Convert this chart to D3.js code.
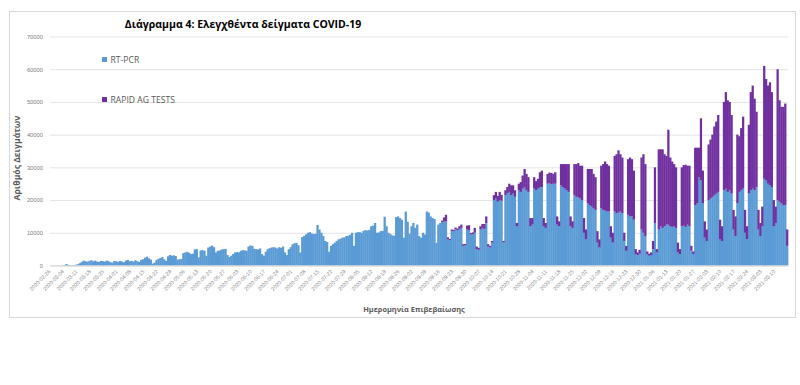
<!DOCTYPE html>
<html>
<head>
<meta charset="utf-8">
<script src="https://cdn.jsdelivr.net/npm/d3@7"></script>
<style>
  body { margin: 0; background: #fff; }
  svg { font-family: 'Open Sans', 'Noto Sans', sans-serif; }
</style>
</head>
<body>
<svg></svg>
<script>
// daily samples, one row per week (Wed..Tue), first day 2020-02-26
let startDate = '2020-02-26'
let pcr = [
  30,20,40,60,20,30,80,
  150,450,200,120,100,150,250,
  400,700,1100,1500,1300,1200,1400,
  1600,1300,1500,1200,1100,1400,1300,
  1200,1500,1300,1000,900,1400,1300,
  1100,1400,1200,1000,1500,1700,1300,
  1400,1200,1600,1300,1100,1700,1900,
  2400,2700,2200,1800,600,900,1700,
  2000,2300,2600,1900,1400,2800,3200,
  3000,3100,2900,1800,1900,2000,3800,
  4000,4200,3900,3500,3600,4900,5000,
  2500,4600,4700,4500,3000,5500,5800,
  6100,5600,4000,4500,4600,4900,5000,
  5100,3200,2600,3000,3500,4000,4100,
  4000,4500,4700,4600,4500,5800,6100,
  6000,5100,5000,4900,5200,3500,3000,
  4200,5000,5300,5500,5600,5500,5200,
  5600,5400,5800,4000,3200,5000,5600,
  6500,6800,6900,6200,4000,8700,9000,
  9500,10000,10200,9800,9600,9700,12400,
  11000,10000,9000,7500,7200,4200,6000,
  6500,7000,7500,8000,8200,8500,8600,
  9000,9100,9400,10000,6000,10000,10200,
  10200,10000,10600,10800,10700,10900,12000,
  12200,13000,10000,10100,10500,10600,14900,
  12000,10000,9600,9200,9100,14800,15000,
  14500,14000,8500,16500,13400,9700,12000,
  13000,11500,12500,9000,8500,10000,9500,
  16500,16200,15000,14500,14200,6900,12500,
  13000,13200,13500,13500,8000,7800,10500,
  10500,11000,10800,11200,11500,6000,6200,
  11000,10800,9500,9600,10000,5000,4800,
  11000,11500,11200,13000,5800,5500,7000,
  20000,20500,19500,20000,19800,7000,21500,
  22000,22500,21500,22000,21000,12000,23000,
  22500,23500,24000,23000,22500,12000,12500,
  23500,23000,23500,24000,24000,12000,11500,
  25000,25200,24800,25000,25000,12500,12000,
  24500,24000,23500,23000,22500,12000,11500,
  21500,21000,20800,20500,20000,10000,8000,
  19000,18500,18000,17500,17000,7000,5500,
  17500,17000,16800,16500,16500,8500,7000,
  16500,16000,16200,16500,16000,7500,4500,
  15500,15000,15000,14000,3500,3200,3600,
  11000,10000,9000,3500,3000,3200,5000,
  13000,4000,11000,12000,11500,12000,12500,
  12500,12000,11800,12000,11500,4000,3500,
  12000,12200,11800,12500,12000,4500,3500,
  18500,19000,27000,26000,19000,8500,7500,
  20000,20500,21000,21500,22000,22500,8000,
  7500,23000,23500,22500,23000,22000,11000,
  9000,19000,22500,23000,23500,10000,8000,
  22000,23000,23500,23000,24000,11000,9000,
  12000,26500,26000,25000,24500,24000,12000,
  13000,20000,19500,19000,18500,18500,6000
]

// rapid antigen tests only reported from 2020-09-16 on
let rapidStart = '2020-09-16'
let rapid = [
  0,500,1200,2000,600,300,500,
  400,600,500,800,1000,500,400,
  1200,1500,400,500,1500,800,600,
  1000,1200,1500,2000,700,500,500,
  1500,2000,1800,2500,1800,500,1500,
  2000,2500,3000,2500,2000,1000,2000,
  3000,4000,5500,5000,4500,2500,2000,
  3500,2800,3000,4500,5000,2500,1500,
  3000,3200,3500,3000,3500,2500,1500,
  6500,7000,7500,8000,8500,3000,2000,
  9500,10000,10500,10000,10500,4500,3000,
  10500,11000,11500,10500,10000,3500,2500,
  13000,14000,15000,14500,14000,3500,3000,
  17000,18000,19000,17500,17000,2500,1500,
  17000,18000,17500,15000,1500,800,1200,
  22000,24000,22000,800,600,800,2500,
  17000,1000,24500,23500,24000,22000,21000,
  29000,21000,20000,19000,18500,3000,1500,
  18000,18500,19000,18000,18500,1500,800,
  17500,17000,9000,19000,10000,5000,3500,
  17000,18000,19000,21000,22000,23500,6000,
  4500,27000,29500,28000,27000,24000,6000,
  6000,21000,17000,19000,22000,7000,4000,
  21000,30000,31500,28000,23000,6000,4000,
  6000,34500,31000,30000,31500,29000,8000,
  5000,40000,31000,29500,30000,31000,5000
]

let yTicks = [0, 10000, 20000, 30000, 40000, 50000, 60000, 70000]
let seriesNames = ['RT-PCR', 'RAPID AG TESTS']
let colors = ['#5b9bd5', '#7030a0']

let width = 800
let height = 385
let plotLeft = 50
let plotRight = 788
let plotTop = 36.5
let plotBottom = 265.5

let parse = d3.timeParse('%Y-%m-%d')
let fmt = d3.timeFormat('%Y-%m-%d')
let day0 = parse(startDate)
let rapidOffset = d3.timeDay.count(day0, parse(rapidStart))

let rows = pcr.map((v, i) => {
  return {
    date: d3.timeDay.offset(day0, i),
    pcr: v,
    rapid: i >= rapidOffset ? rapid[i - rapidOffset] : 0
  }
})

let svg = d3.select('svg').attr('width', width).attr('height', height)

// chart frame
svg.append('rect')
  .attr('x', 9.5).attr('y', 11.5)
  .attr('width', 786).attr('height', 306)
  .attr('fill', '#fff')
  .attr('stroke', '#d9d9d9')

let xScale = d3.scaleBand()
  .domain(rows.map(d => fmt(d.date)))
  .range([plotLeft, plotRight])
  .padding(0)

let yScale = d3.scaleLinear()
  .domain([0, 70000])
  .range([plotBottom, plotTop])

// gridlines + y labels
let yAxis = d3.axisLeft(yScale)
  .tickValues(yTicks)
  .tickSize(-(plotRight - plotLeft))
  .tickPadding(7)
  .tickFormat(d3.format('d'))

let gy = svg.append('g')
  .attr('transform', 'translate(' + plotLeft + ',0)')
  .call(yAxis)
gy.select('.domain').remove()
gy.selectAll('line').attr('stroke', '#e4e4e4')
gy.selectAll('text')
  .attr('fill', '#7f7f7f')
  .style('font-size', '5.8px')

// stacked bars
let stack = d3.stack().keys(['pcr', 'rapid'])
let layers = stack(rows)

svg.append('g')
  .selectAll('g')
  .data(layers)
  .enter()
  .append('g')
  .attr('fill', (d, i) => colors[i])
  .selectAll('rect')
  .data(d => d)
  .enter()
  .append('rect')
  .attr('x', d => xScale(fmt(d.data.date)))
  .attr('width', xScale.bandwidth() + 0.35)
  .attr('y', d => yScale(d[1]))
  .attr('height', d => Math.max(0, yScale(d[0]) - yScale(d[1])))

// x axis, a label every 7 days
let xAxis = d3.axisBottom(xScale)
  .tickValues(xScale.domain().filter((d, i) => i % 7 === 0))
  .tickSize(0)
  .tickPadding(0)

let gx = svg.append('g')
  .attr('transform', 'translate(0,' + plotBottom + ')')
  .call(xAxis)
gx.select('.domain').attr('stroke', '#d9d9d9')
gx.selectAll('text')
  .attr('fill', '#7f7f7f')
  .style('font-size', '5.3px')
  .attr('text-anchor', 'end')
  .attr('dy', null)
  .attr('y', 0)
  .attr('transform', 'translate(0,6.5) rotate(-45)')

// titles
svg.append('text')
  .attr('x', 243)
  .attr('y', 27.5)
  .attr('text-anchor', 'middle')
  .style('font-size', '10.5px')
  .style('font-weight', 'bold')
  .attr('fill', '#000')
  .text('Διάγραμμα 4: Ελεγχθέντα δείγματα COVID-19')

svg.append('text')
  .attr('transform', 'translate(20,158) rotate(-90)')
  .attr('text-anchor', 'middle')
  .style('font-size', '8.6px')
  .style('font-weight', 'bold')
  .attr('fill', '#595959')
  .text('Αριθμός Δειγμάτων')

svg.append('text')
  .attr('x', 414)
  .attr('y', 312)
  .attr('text-anchor', 'middle')
  .style('font-size', '7.4px')
  .style('font-weight', 'bold')
  .attr('fill', '#595959')
  .text('Ημερομηνία Επιβεβαίωσης')

// legend
let legend = svg.append('g')
  .selectAll('g')
  .data(seriesNames)
  .enter()
  .append('g')
  .attr('transform', (d, i) => 'translate(102,' + (57 + i * 40) + ')')

legend.append('rect')
  .attr('width', 5).attr('height', 5)
  .attr('fill', (d, i) => colors[i])

legend.append('text')
  .attr('x', 8.5)
  .attr('y', 6)
  .style('font-size', '8.6px')
  .attr('fill', '#595959')
  .text(d => d)
</script>
</body>
</html>
